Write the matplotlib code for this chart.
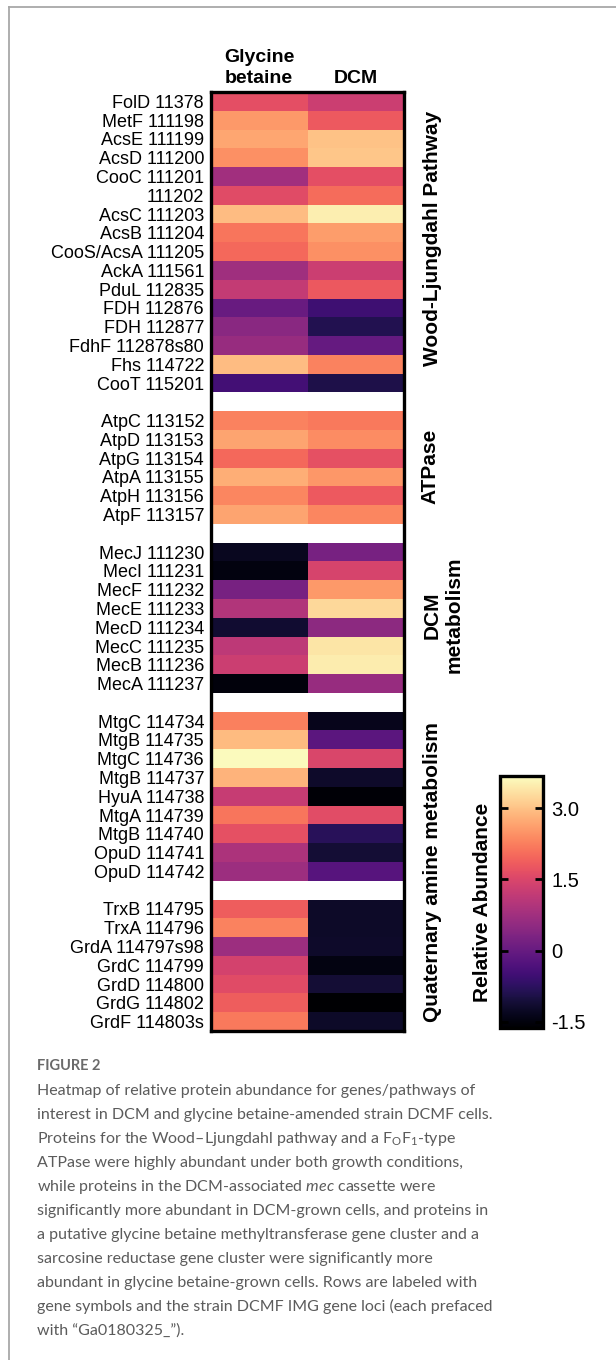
import numpy as np
import matplotlib
matplotlib.use('Agg')
import matplotlib.pyplot as plt
from matplotlib.lines import Line2D

# ---------------- data ----------------
columns = ["Glycine\nbetaine", "DCM"]

wl_labels = ["FolD 11378", "MetF 111198", "AcsE 111199", "AcsD 111200", "CooC 111201",
             "111202", "AcsC 111203", "AcsB 111204", "CooS/AcsA 111205", "AckA 111561",
             "PduL 112835", "FDH 112876", "FDH 112877", "FdhF 112878s80", "Fhs 114722",
             "CooT 115201"]
wl_gb = [1.65, 2.55, 2.70, 2.45, 0.76, 1.60, 2.95, 2.15, 2.00, 0.75, 1.20, 0.02, 0.45, 0.65, 2.95, -0.45]
wl_dcm = [1.30, 1.83, 3.00, 3.05, 1.65, 2.05, 3.50, 2.60, 2.45, 1.30, 1.80, -0.52, -0.88, -0.03, 2.30, -0.94]

atp_labels = ["AtpC 113152", "AtpD 113153", "AtpG 113154", "AtpA 113155", "AtpH 113156", "AtpF 113157"]
atp_gb = [2.30, 2.68, 2.00, 2.78, 2.35, 2.67]
atp_dcm = [2.20, 2.40, 1.68, 2.53, 1.83, 2.35]

mec_labels = ["MecJ 111230", "MecI 111231", "MecF 111232", "MecE 111233", "MecD 111234",
              "MecC 111235", "MecB 111236", "MecA 111237"]
mec_gb = [-1.30, -1.47, 0.22, 0.97, -1.15, 1.12, 1.30, -1.52]
mec_dcm = [0.23, 1.45, 2.55, 3.25, 0.50, 3.40, 3.48, 0.65]

mtg_labels = ["MtgC 114734", "MtgB 114735", "MtgC 114736", "MtgB 114737", "HyuA 114738",
              "MtgA 114739", "MtgB 114740", "OpuD 114741", "OpuD 114742"]
mtg_gb = [2.28, 2.93, 3.65, 2.83, 1.25, 2.15, 1.68, 0.92, 0.70]
mtg_dcm = [-1.35, -0.15, 1.50, -1.20, -1.58, 1.62, -0.78, -1.10, -0.20]

grd_labels = ["TrxB 114795", "TrxA 114796", "GrdA 114797s98", "GrdC 114799", "GrdD 114800",
              "GrdG 114802", "GrdF 114803s"]
grd_gb = [1.87, 2.30, 0.70, 1.40, 1.60, 1.87, 2.20]
grd_dcm = [-1.22, -1.22, -1.20, -1.45, -1.10, -1.62, -1.22]

cbar_ticks = [-1.5, 0, 1.5, 3.0]
cbar_ticklabels = ["-1.5", "0", "1.5", "3.0"]
VMIN, VMAX = -1.63, 3.68

caption_title = "FIGURE 2"
caption_lines = [
    "Heatmap of relative protein abundance for genes/pathways of",
    "interest in DCM and glycine betaine-amended strain DCMF cells.",
    r"Proteins for the Wood–Ljungdahl pathway and a F$_\mathrm{O}$F$_\mathrm{1}$-type",
    "ATPase were highly abundant under both growth conditions,",
    r"while proteins in the DCM-associated $\mathit{mec}$ cassette were",
    "significantly more abundant in DCM-grown cells, and proteins in",
    "a putative glycine betaine methyltransferase gene cluster and a",
    "sarcosine reductase gene cluster were significantly more",
    "abundant in glycine betaine-grown cells. Rows are labeled with",
    "gene symbols and the strain DCMF IMG gene loci (each prefaced",
    "with “Ga0180325_”).",
]

# ---------------- style ----------------
plt.rcParams['font.family'] = ['Liberation Sans', 'DejaVu Sans']
plt.rcParams['mathtext.fontset'] = 'custom'
plt.rcParams['mathtext.rm'] = 'Lato'
plt.rcParams['mathtext.it'] = 'Lato:italic'
plt.rcParams['mathtext.bf'] = 'Lato:bold'

W, H = 616, 1360
fig = plt.figure(figsize=(W / 100, H / 100), dpi=100)


def fx(px):
    return px / W


def fy(py):
    return 1 - py / H


# assemble rows with blank separator rows
groups = [(wl_labels, wl_gb, wl_dcm), (atp_labels, atp_gb, atp_dcm),
          (mec_labels, mec_gb, mec_dcm), (mtg_labels, mtg_gb, mtg_dcm),
          (grd_labels, grd_gb, grd_dcm)]
labels, gb, dcm = [], [], []
for i, (lab, g, d) in enumerate(groups):
    if i > 0:
        labels.append("")
        gb.append(np.nan)
        dcm.append(np.nan)
    labels += lab
    gb += g
    dcm += d
mat = np.ma.masked_invalid(np.column_stack([gb, dcm]))

cmap = plt.get_cmap('magma').copy()
cmap.set_bad('white')

L, R, T, B = 211, 404, 92, 1031
ax = fig.add_axes([fx(L), fy(B), fx(R) - fx(L), fy(T) - fy(B)])
im = ax.imshow(mat, cmap=cmap, vmin=VMIN, vmax=VMAX, aspect='auto', interpolation='nearest')
ax.set_yticks(range(len(labels)), labels, fontsize=13)
ax.tick_params(axis='y', length=0, pad=5)
ax.set_xticks([])
for s in ax.spines.values():
    s.set_linewidth(2.4)

# column headers
colw = (R - L) / 2
for j, c in enumerate(columns):
    fig.text(fx(L + colw * (j + 0.5)), fy(87), c, ha='center', va='bottom',
             fontsize=14, fontweight='bold', linespacing=1.3)

# group labels on the right
fig.text(fx(432), fy(238), "Wood-Ljungdahl Pathway", rotation=90, ha='center', va='center',
         fontsize=15, fontweight='bold')
fig.text(fx(430), fy(466), "ATPase", rotation=90, ha='center', va='center',
         fontsize=15, fontweight='bold')
fig.text(fx(443), fy(615), "DCM\nmetabolism", rotation=90, ha='center', va='center',
         fontsize=15, fontweight='bold', multialignment='center')
fig.text(fx(432), fy(872), "Quaternary amine metabolism", rotation=90, ha='center', va='center',
         fontsize=15, fontweight='bold')

# colorbar
cax = fig.add_axes([fx(500), fy(1028), fx(543) - fx(500), fy(776) - fy(1028)])
cb = fig.colorbar(im, cax=cax)
cb.set_ticks(cbar_ticks, labels=cbar_ticklabels)
cax.tick_params(direction='in', left=True, right=True, length=6, width=2,
                labelsize=14.5, pad=6)
cb.outline.set_linewidth(2.4)
fig.text(fx(483), fy(902), "Relative Abundance", rotation=90, ha='center', va='center',
         fontsize=15, fontweight='bold')

# frame lines
frame_c = '#a8a8a8'
fig.add_artist(Line2D([fx(9), 1], [fy(7), fy(7)], color=frame_c, lw=1.3))
fig.add_artist(Line2D([fx(9), fx(9)], [0, fy(7)], color=frame_c, lw=1.3))

# caption
cap_color = '#5b5b5b'
fig.text(fx(37), fy(1070), caption_title, ha='left', va='baseline', fontsize=10.5,
         fontweight='bold', family=['Lato', 'DejaVu Sans'], color='#6a6a6a')

renderer = fig.canvas.get_renderer()
fs = 11.0
probe = fig.text(0, 0, caption_lines[0], fontsize=fs, family=['Lato', 'DejaVu Sans'])
wpx = probe.get_window_extent(renderer).width
probe.remove()
fs = fs * 438.0 / wpx

for k, line in enumerate(caption_lines):
    fig.text(fx(37), fy(1095 + 24 * k), line, ha='left', va='baseline', fontsize=fs,
             family=['Lato', 'DejaVu Sans'], color=cap_color)

fig.savefig('out.png', dpi=100, facecolor='white')
